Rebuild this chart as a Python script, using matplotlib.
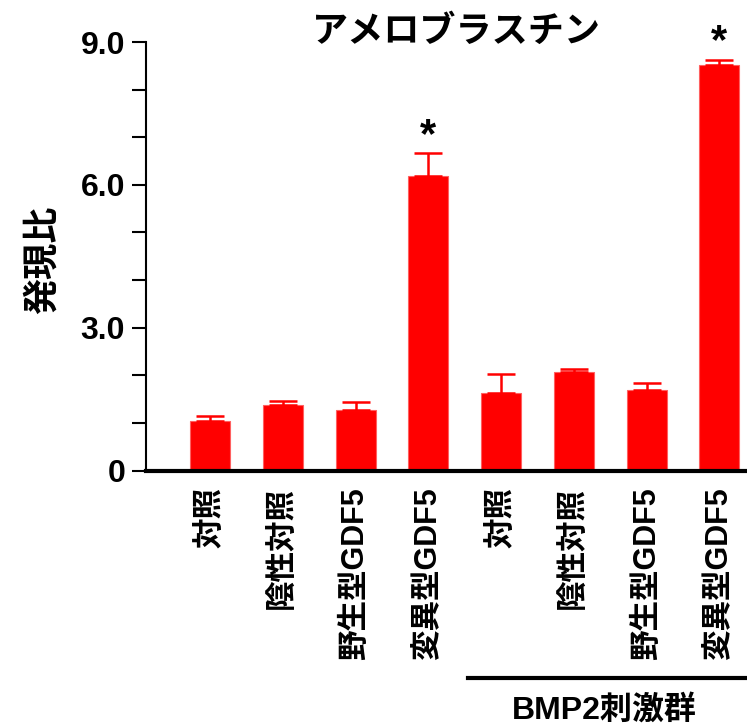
import numpy as np
import matplotlib
matplotlib.use('Agg')
import matplotlib.pyplot as plt
import matplotlib.transforms as mtransforms

plt.rcParams['font.family'] = ['Liberation Sans', 'Noto Sans CJK JP', 'DejaVu Sans']
plt.rcParams['font.weight'] = 'bold'

# data
labels = ['対照', '陰性対照', '野生型GDF5', '変異型GDF5',
          '対照', '陰性対照', '野生型GDF5', '変異型GDF5']
values = [1.03, 1.38, 1.27, 6.18, 1.63, 2.07, 1.69, 8.52]
errors = [0.12, 0.07, 0.17, 0.48, 0.39, 0.07, 0.14, 0.10]
significant = [False, False, False, True, False, False, False, True]
title = 'アメロブラスチン'
ylabel = '発現比'
group_label = 'BMP2刺激群'
yticks = [0, 3, 6, 9]
ytick_labels = ['0', '3.0', '6.0', '9.0']

fig = plt.figure(figsize=(7.47, 7.25), dpi=100)
ax = fig.add_axes([146/747, 1 - 470.5/725, 1 - 146/747, (470.5 - 42)/725])

x = np.arange(len(values))
ax.bar(x, values, width=0.55, color='#ff0000', edgecolor='#ff6060', linewidth=0.8, zorder=2)
ax.errorbar(x, values, yerr=[np.zeros(len(errors)), errors], fmt='none',
            ecolor='#ff0000', elinewidth=1.8, capsize=10, capthick=1.8, zorder=3)

for xi, v, e, s in zip(x, values, errors, significant):
    if s:
        ax.text(xi, v + e - 0.05, '*', ha='center', va='bottom', fontsize=30,
                fontweight='bold', color='black')

ax.set_xlim(-0.88, 7.38)
ax.set_ylim(0, 9)
ax.set_yticks(yticks)
ax.set_yticklabels(ytick_labels, fontsize=23, fontweight='bold')
ax.set_yticks(np.arange(0, 10, 1), minor=True)
ax.tick_params(axis='y', which='both', direction='out', length=10, width=1.5, pad=5)
ax.set_xticks(x)
ax.set_xticklabels(labels, rotation=90, fontsize=22, fontweight='bold')
ax.tick_params(axis='x', length=0, pad=12)

ax.spines['top'].set_visible(False)
ax.spines['right'].set_visible(False)
ax.spines['left'].set_linewidth(1.5)
ax.spines['bottom'].set_linewidth(3)

fig.text(43/747, 1 - 260/725, ylabel, rotation=90, ha='center', va='center',
         fontsize=26, fontweight='bold')
fig.text(456/747, 1 - 32/725, title, ha='center', va='center',
         fontsize=26, fontweight='bold')

# group bracket under the stimulated bars
trans = mtransforms.blended_transform_factory(ax.transData, fig.transFigure)
ax.plot([3.54, 7.38], [1 - 678/725, 1 - 678/725], color='black', lw=3,
        transform=trans, clip_on=False)
fig.text(604/747, 1 - 710/725, group_label, ha='center', va='center',
         fontsize=23, fontweight='bold')

fig.savefig('out.png', dpi=100)
